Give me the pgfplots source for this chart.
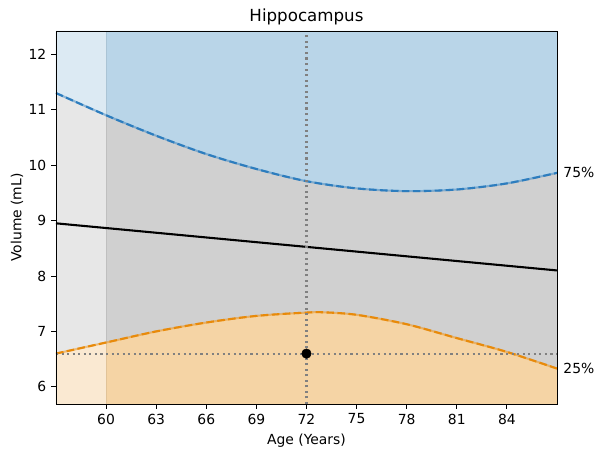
\documentclass[border=0pt]{standalone}
\usepackage{fontspec}
\setmainfont{DejaVu Sans}
\usepackage{pgfplots}
\pgfplotsset{compat=1.18}
\definecolor{bluefill}{RGB}{185,213,232}
\definecolor{grayfill}{RGB}{208,208,208}
\definecolor{orangefill}{RGB}{245,212,165}
\definecolor{blueline}{RGB}{45,125,190}
\definecolor{orangeline}{RGB}{232,138,10}
\begin{document}
\begin{tikzpicture}[x=1pt,y=1pt]
\begin{axis}[
  scale only axis,
  width=360.7pt, height=268.6pt,
  xmin=57, xmax=87, ymin=5.69, ymax=12.42,
  xtick={60,63,66,69,72,75,78,81,84},
  ytick={6,7,8,9,10,11,12},
  tick align=outside, xtick pos=bottom, ytick pos=left,
  major tick length=3.5pt,
  tick style={black, line width=0.6pt},
  axis line style={line width=0.6pt},
  /pgf/number format/assume math mode=true,
  ticklabel style={font=\fontsize{10}{12}\selectfont},
  xlabel={Age (Years)}, ylabel={Volume (mL)},
  ylabel shift=-3pt,
  label style={font=\fontsize{10}{12}\selectfont},
  title={Hippocampus},
  title style={font=\fontsize{12}{14}\selectfont, yshift=-5pt},
  clip=false,
  axis on top,
]
% gray background band
\addplot[fill=grayfill, draw=none] coordinates {(57,5.69) (87,5.69) (87,12.42) (57,12.42)} -- cycle;
% upper (blue) area
\addplot[fill=bluefill, draw=none, smooth] coordinates {
 (57,11.30) (60,10.90) (63,10.53) (66,10.20) (69,9.93) (72,9.71) (75,9.58) (78,9.53) (81,9.56) (84,9.67) (87,9.86)}
 -- (axis cs:87,12.42) -- (axis cs:57,12.42) -- cycle;
% lower (orange) area
\addplot[fill=orangefill, draw=none, smooth] coordinates {
 (57,6.60) (60,6.80) (63,7.00) (66,7.16) (69,7.28) (72,7.34) (73,7.345) (75,7.30) (78,7.13) (81,6.88) (84,6.63) (87,6.33)}
 -- (axis cs:87,5.69) -- (axis cs:57,5.69) -- cycle;
% left shaded region
\fill[white, opacity=0.5] (axis cs:57,5.69) rectangle (axis cs:60,12.42);
\draw[black, opacity=0.08, line width=0.8pt] (axis cs:60,5.69) -- (axis cs:60,12.42);
% lines
\addplot[blueline, opacity=0.45, line width=1.5pt, smooth] coordinates {
 (57,11.30) (60,10.90) (63,10.53) (66,10.20) (69,9.93) (72,9.71) (75,9.58) (78,9.53) (81,9.56) (84,9.67) (87,9.86)};
\addplot[blueline, line width=1.5pt, dash pattern=on 5.5pt off 2.4pt, smooth] coordinates {
 (57,11.30) (60,10.90) (63,10.53) (66,10.20) (69,9.93) (72,9.71) (75,9.58) (78,9.53) (81,9.56) (84,9.67) (87,9.86)};
\addplot[orangeline, opacity=0.45, line width=1.5pt, smooth] coordinates {
 (57,6.60) (60,6.80) (63,7.00) (66,7.16) (69,7.28) (72,7.34) (73,7.345) (75,7.30) (78,7.13) (81,6.88) (84,6.63) (87,6.33)};
\addplot[orangeline, line width=1.5pt, dash pattern=on 5.5pt off 2.4pt, smooth] coordinates {
 (57,6.60) (60,6.80) (63,7.00) (66,7.16) (69,7.28) (72,7.34) (73,7.345) (75,7.30) (78,7.13) (81,6.88) (84,6.63) (87,6.33)};
\addplot[black, line width=1.5pt] coordinates {(57,8.95) (87,8.10)};
% dotted reference lines
\addplot[gray, line width=1.5pt, dash pattern=on 1.5pt off 2.5pt] coordinates {(72,5.69) (72,12.42)};
\addplot[gray, line width=1.5pt, dash pattern=on 1.5pt off 2.5pt] coordinates {(57,6.6) (87,6.6)};
% subject point
\addplot[only marks, mark=*, mark size=3.4pt, black] coordinates {(72,6.6)};
% percentile labels
\node[anchor=west, font=\fontsize{10}{12}\selectfont, inner sep=0pt] at (axis cs:87,9.86) {\hspace{4.5pt}75\%};
\node[anchor=west, font=\fontsize{10}{12}\selectfont, inner sep=0pt] at (axis cs:87,6.33) {\hspace{4.5pt}25\%};
\end{axis}
\path (current axis.south west) ++(-40.3pt,-34.6pt) coordinate (bbA);
\path (current axis.north east) ++(28.1pt,22.3pt) coordinate (bbB);
\useasboundingbox (bbA) rectangle (bbB);
\end{tikzpicture}
\end{document}
